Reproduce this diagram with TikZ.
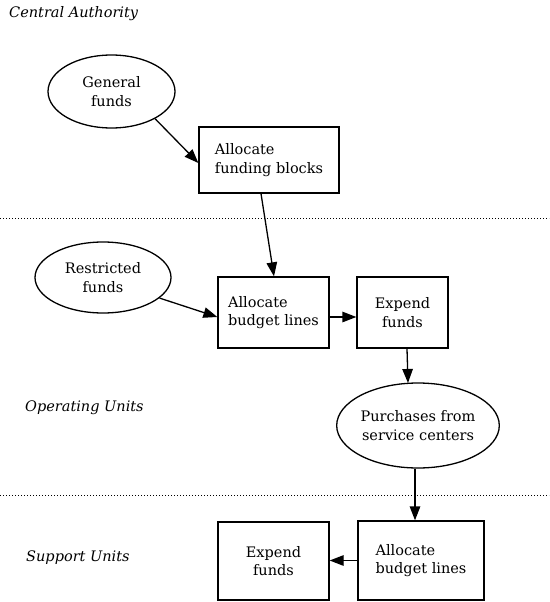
\documentclass[tikz,border=0pt]{standalone}
\usepackage{fontspec}
\setmainfont{DejaVu Serif}
\usetikzlibrary{arrows.meta,shapes.geometric,calc}
\tikzset{
  txt/.style={font=\fontsize{14.5}{18.5}\selectfont, text=black},
  lbl/.style={font=\fontsize{14.5}{18.5}\selectfont\itshape, anchor=west, inner sep=0pt},
  oval/.style={txt, draw=black, line width=1.3pt, ellipse, inner sep=0pt, align=center},
  rbox/.style={txt, draw=black, line width=1.3pt, rectangle, inner sep=0pt},
  arr/.style={draw=black, line width=1.3pt, -{Triangle[length=14pt,width=10.5pt]}},
  sep/.style={draw=black, line width=0.8pt, dash pattern=on 0.8pt off 2.2pt}
}
\begin{document}
\begin{tikzpicture}[x=1pt,y=-1pt]
\useasboundingbox (0,0) rectangle (549,602);
% region labels
\node[lbl] (lca) at (9,14) {Central Authority};
\node[lbl] (lou) at (25,408) {Operating Units};
\node[lbl] (lsu) at (26,558) {Support Units};
% separators
\coordinate (s1a) at (0,218); \coordinate (s1b) at (549,218);
\coordinate (s2a) at (0,495); \coordinate (s2b) at (549,495);
\draw[sep] (s1a) -- (s1b);
\draw[sep] (s2a) -- (s2b);
% nodes
\node[oval, minimum width=127pt, minimum height=73pt] (gen) at (111.5,91.5) {General\\funds};
\node[rbox, minimum width=140pt, minimum height=66pt, align=left] (fb) at (269,160) {Allocate\\funding blocks};
\node[oval, minimum width=136pt, minimum height=71pt] (res) at (103,277.5) {Restricted\\funds};
\node[rbox, minimum width=111pt, minimum height=71pt, align=left] (ab) at (273.5,312.5) {Allocate\\budget lines};
\node[rbox, minimum width=91pt, minimum height=71pt, align=center] (ex) at (402.5,312.5) {Expend\\funds};
\node[oval, minimum width=145pt, minimum height=85pt] (pur) at (418,425.5) {Purchases from\\service centers};
\node[rbox, minimum width=126pt, minimum height=79pt, align=left] (ab2) at (421,560.5) {Allocate\\budget lines};
\node[rbox, minimum width=111pt, minimum height=78pt, align=center] (ex2) at (273.5,561) {Expend\\funds};
% connectors
\draw[arr] (gen.-32) -- ($(fb.west)+(0,3)$);
\draw[arr] ($(fb.south)+(-8,0)$) -- ($(ab.north)+(0.5,0)$);
\draw[arr] (res.-20) -- ($(ab.west)+(0,4.5)$);
\draw[arr] ($(ab.east)+(0,4.5)$) -- ($(ex.west)+(0,4.5)$);
\draw[arr] ($(ex.south)+(4.5,0)$) -- ($(pur.north)+(-10,0.6)$);
\draw[arr] ($(pur.south)+(-3,0)$) -- ($(pur.south |- ab2.north)+(-3,0)$);
\draw[arr] (ab2.west) -- (ex2.east |- ab2.west);
\end{tikzpicture}
\end{document}
